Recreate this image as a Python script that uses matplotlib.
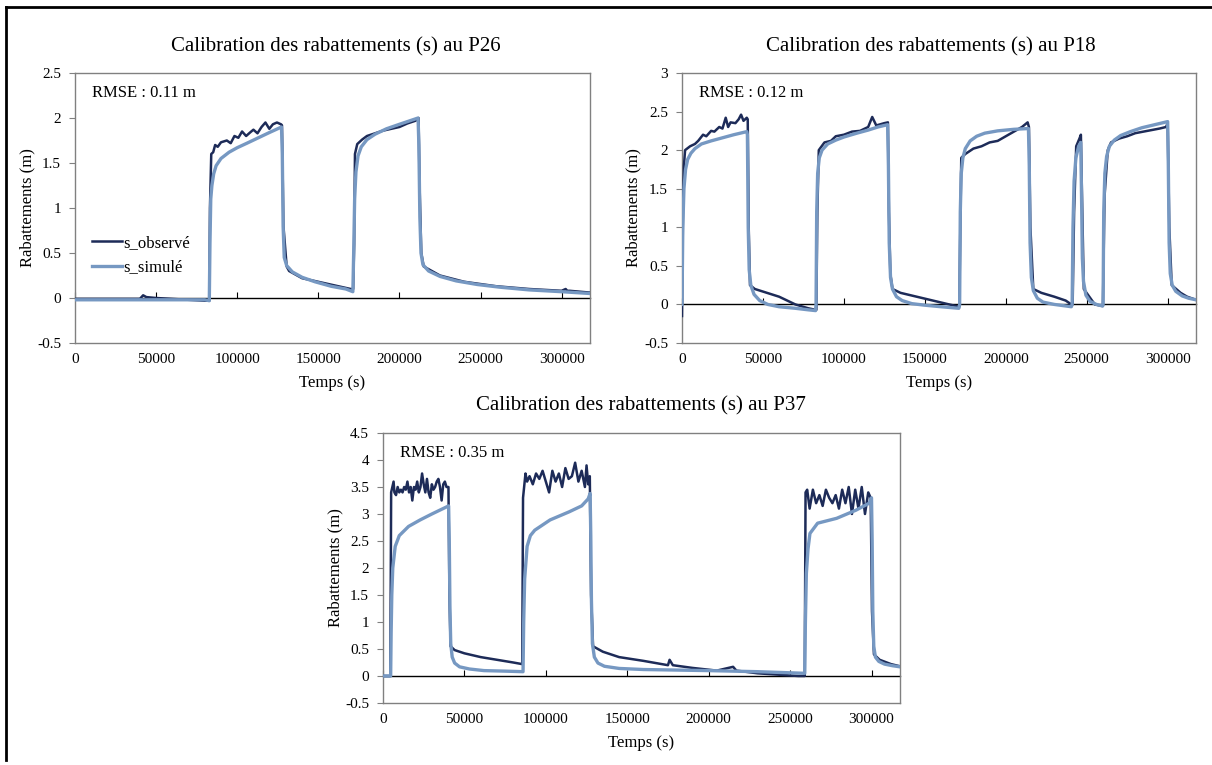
import matplotlib.pyplot as plt
from matplotlib.lines import Line2D

plt.rcParams['font.family'] = ['Liberation Serif', 'DejaVu Serif']

# P26 - observé
t26_obs = [0, 20000, 40000, 42000, 44000, 50000, 60000, 70000, 80000, 82800,
           83200, 84000, 85200, 86400, 88000, 90000, 93600, 96000, 98300, 100700,
           103000, 105500, 108000, 110000, 112500, 115000, 117400, 119800, 122000, 124500,
           127000, 127600, 128500, 130500, 132000, 140000, 150000, 160000, 170000, 171500,
           172100, 172600, 174000, 177000, 180000, 185000, 190000, 195000, 200000, 205000,
           210000, 211800, 212500, 213500, 215000, 225000, 240000, 260000, 280000, 300000,
           302500, 303500, 305000, 317500]
s26_obs = [-0.01, -0.01, -0.01, 0.03, 0.01, 0.0, -0.01, -0.02, -0.03, -0.03,
           1.0, 1.6, 1.62, 1.70, 1.68, 1.73, 1.75, 1.72, 1.80, 1.78,
           1.85, 1.80, 1.84, 1.87, 1.83, 1.90, 1.95, 1.88, 1.93, 1.95,
           1.93, 1.92, 0.8, 0.35, 0.30, 0.22, 0.18, 0.14, 0.10, 0.10,
           0.6, 1.6, 1.71, 1.76, 1.80, 1.83, 1.86, 1.88, 1.90, 1.94,
           1.97, 2.0, 1.2, 0.5, 0.35, 0.25, 0.18, 0.13, 0.10, 0.08,
           0.10, 0.08, 0.08, 0.06]

# P26 - simulé
t26_sim = [0, 40000, 80000, 82800, 83200, 83700, 84400, 85500, 87000, 90000,
           95000, 100000, 106000, 113000, 120000, 127300, 127800, 128300, 129000, 130500,
           134000, 140000, 148000, 158000, 167000, 171300, 171800, 172400, 173200, 174500,
           176500, 180000, 185000, 192000, 200000, 211500, 212000, 212600, 213300, 214500,
           218000, 225000, 235000, 248000, 262000, 280000, 300000, 317500]
s26_sim = [-0.02, -0.02, -0.02, -0.03, 0.6, 1.1, 1.25, 1.38, 1.47, 1.55,
           1.62, 1.67, 1.72, 1.78, 1.84, 1.90, 1.6, 0.8, 0.45, 0.36,
           0.29, 0.23, 0.18, 0.13, 0.10, 0.07, 0.5, 1.1, 1.4, 1.58,
           1.68, 1.76, 1.82, 1.88, 1.93, 2.0, 1.7, 0.9, 0.5, 0.37,
           0.30, 0.24, 0.19, 0.15, 0.12, 0.09, 0.07, 0.05]

# P18 - observé
t18_obs = [0, 600, 1200, 1900, 5000, 8000, 10000, 13000, 15000, 18000,
           20000, 23000, 25000, 27000, 28500, 30000, 33000, 35000, 36500, 38000,
           40000, 40600, 41200, 42000, 45000, 60000, 70000, 78000, 82500, 83000,
           83600, 84500, 88000, 92000, 95000, 100000, 105000, 110000, 115000, 117500,
           120000, 125000, 127200, 127800, 128700, 130000, 135000, 145000, 155000, 165000,
           171300, 171800, 172500, 175000, 180000, 185000, 190000, 195000, 200000, 205000,
           210000, 213500, 214300, 215200, 217000, 222000, 230000, 237000, 240500, 241300,
           242200, 243500, 245500, 246400, 247000, 248200, 255000, 259500, 260000, 261000,
           263000, 265000, 270000, 275000, 280000, 285000, 290000, 295000, 299000, 300000,
           301000, 302500, 308000, 312000, 317500]
s18_obs = [-0.15, 1.2, 1.8, 2.0, 2.05, 2.08, 2.12, 2.2, 2.18, 2.25,
           2.24, 2.3, 2.28, 2.42, 2.3, 2.36, 2.35, 2.4, 2.46, 2.38,
           2.42, 2.4, 1.0, 0.25, 0.2, 0.1, 0.0, -0.05, -0.07, -0.07,
           1.2, 2.0, 2.1, 2.12, 2.18, 2.2, 2.24, 2.25, 2.3, 2.43,
           2.32, 2.35, 2.36, 1.2, 0.4, 0.2, 0.15, 0.1, 0.05, 0.0,
           -0.03, 0.8, 1.9, 1.95, 2.02, 2.05, 2.1, 2.12, 2.18, 2.24,
           2.3, 2.36, 2.3, 1.0, 0.2, 0.15, 0.1, 0.05, 0.0, 0.0,
           1.2, 2.05, 2.15, 2.2, 1.5, 0.2, 0.0, -0.02, -0.02, 1.4,
           2.0, 2.1, 2.15, 2.18, 2.22, 2.24, 2.26, 2.28, 2.3, 2.35,
           1.0, 0.25, 0.15, 0.1, 0.06]

# P18 - simulé
t18_sim = [0, 500, 1200, 2200, 3500, 5500, 8000, 12000, 18000, 25000,
           32000, 40000, 40400, 40900, 41500, 42500, 44500, 48000, 53000, 60000,
           70000, 78000, 82500, 82800, 83200, 83800, 84800, 86500, 90000, 95000,
           100000, 108000, 115000, 121000, 127000, 127500, 128000, 128800, 130000, 132500,
           136000, 142000, 150000, 160000, 171000, 171500, 171900, 172500, 173500, 175000,
           178000, 182000, 187000, 195000, 205000, 214000, 214500, 215000, 215800, 217000,
           219500, 223000, 230000, 240500, 241000, 241500, 242200, 243300, 245000, 246300,
           246800, 247300, 248000, 249500, 252000, 256000, 259800, 260100, 260500, 261200,
           262300, 264000, 267000, 271000, 277000, 284000, 292000, 300000, 300400, 300900,
           301600, 302800, 305000, 309000, 313000, 317500]
s18_sim = [0.0, 1.0, 1.5, 1.75, 1.88, 1.96, 2.02, 2.08, 2.12, 2.16,
           2.2, 2.24, 2.2, 1.0, 0.45, 0.25, 0.13, 0.05, 0.0, -0.03,
           -0.05, -0.07, -0.08, 0.0, 1.2, 1.7, 1.9, 2.0, 2.08, 2.13,
           2.17, 2.22, 2.26, 2.3, 2.33, 1.8, 0.8, 0.35, 0.2, 0.1,
           0.05, 0.01, -0.01, -0.03, -0.05, 0.0, 1.2, 1.7, 1.9, 2.02,
           2.12, 2.18, 2.22, 2.25, 2.27, 2.28, 1.8, 0.8, 0.35, 0.18,
           0.08, 0.03, 0.0, -0.03, 0.0, 1.0, 1.6, 1.9, 2.05, 2.1,
           1.4, 0.6, 0.3, 0.12, 0.04, 0.0, -0.02, 0.0, 1.2, 1.7,
           1.92, 2.05, 2.13, 2.19, 2.24, 2.29, 2.33, 2.37, 1.8, 0.8,
           0.4, 0.25, 0.17, 0.11, 0.08, 0.06]

# P37 - observé
t37_obs = [0, 4500, 5000, 6500, 7000, 8000, 9000, 10000, 11000, 12000,
           13000, 14000, 15000, 16000, 17000, 18000, 19000, 20000, 21000, 22000,
           23000, 24000, 25000, 26000, 27000, 28000, 29000, 30000, 31000, 32000,
           33000, 34000, 35000, 36000, 37000, 38000, 39000, 40200, 40800, 41500,
           44000, 50000, 60000, 70000, 80000, 85500, 86000, 87500, 88500, 90000,
           92000, 94000, 96000, 98000, 100000, 102000, 104000, 106000, 108000, 110000,
           112000, 114000, 116000, 118000, 120000, 122000, 124000, 125000, 126000, 127000,
           127800, 129000, 135000, 145000, 160000, 175000, 176000, 178000, 190000, 205000,
           215000, 217000, 230000, 245000, 255000, 259000, 259500, 260500, 262000, 264000,
           266000, 268000, 270000, 272000, 274000, 276000, 278000, 280000, 282000, 284000,
           286000, 288000, 290000, 292000, 294000, 296000, 298000, 299500, 300300, 301500,
           305000, 312000, 317500]
s37_obs = [0.0, 0.0, 3.4, 3.6, 3.4, 3.35, 3.5, 3.4, 3.45, 3.4,
           3.5, 3.45, 3.6, 3.4, 3.5, 3.25, 3.5, 3.45, 3.6, 3.4,
           3.5, 3.75, 3.55, 3.4, 3.65, 3.4, 3.3, 3.55, 3.45, 3.5,
           3.6, 3.65, 3.5, 3.25, 3.55, 3.6, 3.5, 3.5, 1.5, 0.55,
           0.48, 0.42, 0.35, 0.3, 0.25, 0.22, 3.3, 3.75, 3.6, 3.7,
           3.55, 3.75, 3.65, 3.8, 3.6, 3.4, 3.8, 3.6, 3.75, 3.5,
           3.85, 3.65, 3.7, 3.95, 3.6, 3.8, 3.5, 3.9, 3.55, 3.7,
           1.5, 0.55, 0.45, 0.35, 0.28, 0.2, 0.3, 0.2, 0.15, 0.1,
           0.17, 0.1, 0.05, 0.02, 0.0, 0.0, 3.4, 3.45, 3.1, 3.45,
           3.2, 3.35, 3.15, 3.45, 3.3, 3.2, 3.35, 3.1, 3.45, 3.2,
           3.5, 3.0, 3.45, 3.1, 3.5, 3.0, 3.4, 3.3, 1.2, 0.4,
           0.3, 0.22, 0.18]

# P37 - simulé
t37_sim = [0, 4700, 5000, 5400, 6000, 7500, 10000, 15700, 22800, 30000,
           40300, 40700, 41100, 41600, 42500, 44000, 47000, 53000, 62000, 75000,
           86000, 86400, 87000, 88500, 90500, 93200, 102600, 114300, 122000, 126000,
           127200, 127600, 128000, 128600, 129800, 132000, 136000, 145000, 160000, 180000,
           200000, 230000, 259000, 259400, 260000, 261000, 262200, 266900, 278600, 290400,
           298600, 300000, 300400, 300800, 301400, 302400, 304500, 308000, 313000, 317500]
s37_sim = [0.0, 0.0, 0.8, 1.5, 2.0, 2.4, 2.6, 2.77, 2.89, 3.0,
           3.15, 2.5, 1.3, 0.6, 0.35, 0.24, 0.17, 0.13, 0.10, 0.09,
           0.08, 1.0, 1.8, 2.4, 2.6, 2.7, 2.89, 3.04, 3.15, 3.28,
           3.38, 2.6, 1.4, 0.6, 0.35, 0.24, 0.18, 0.14, 0.12, 0.11,
           0.10, 0.08, 0.05, 1.0, 1.9, 2.35, 2.64, 2.83, 2.92, 3.07,
           3.2, 3.3, 2.5, 1.2, 0.55, 0.35, 0.27, 0.22, 0.19, 0.17]

col_obs = '#1d2b58'
col_sim = '#7698c2'
gris = '#808080'
x_ticks = [0, 50000, 100000, 150000, 200000, 250000, 300000]

W, H = 1212, 765
fig = plt.figure(figsize=(W / 100, H / 100), dpi=100)


def panneau(px, t_obs, s_obs, t_sim, s_sim, ymin, ymax, titre, rmse, titre_x, titre_y, ylab_x):
    l, r, top, bot = px
    ax = fig.add_axes([l / W, 1 - bot / H, (r - l) / W, (bot - top) / H])
    ax.plot(t_obs, s_obs, color=col_obs, lw=1.8, label='s_observé', zorder=3)
    ax.plot(t_sim, s_sim, color=col_sim, lw=2.4, label='s_simulé', zorder=4)
    ax.set_xlim(0, 317500)
    ax.set_ylim(ymin, ymax)
    ax.set_xticks(x_ticks)
    ax.set_xticklabels([str(v) for v in x_ticks])
    yt = [ymin + 0.5 * i for i in range(int(round((ymax - ymin) / 0.5)) + 1)]
    ax.set_yticks(yt)
    ax.set_yticklabels(['%g' % v for v in yt])
    ax.tick_params(axis='x', length=0, pad=7, labelsize=11)
    ax.tick_params(axis='y', length=4, color=gris, pad=6, labelsize=11)
    for sp in ax.spines.values():
        sp.set_color(gris)
        sp.set_linewidth(1.0)
    # axe horizontal en y = 0 avec ses graduations
    sec = ax.secondary_xaxis((0 - ymin) / (ymax - ymin))
    sec.set_xticks(x_ticks)
    sec.tick_params(direction='in', length=4, labelbottom=False, color='black')
    sec.spines['bottom'].set_color('black')
    sec.spines['bottom'].set_linewidth(1.0)
    ax.text(0.033, 0.925, rmse, transform=ax.transAxes, fontsize=12, va='center')
    fig.text(titre_x / W, 1 - titre_y / H, titre, ha='center', va='center', fontsize=15)
    fig.text((l + r) / 2 / W, 1 - (bot + 40) / H, 'Temps (s)', ha='center', va='center', fontsize=12)
    fig.text(ylab_x / W, 1 - (top + bot) / 2 / H, 'Rabattements (m)', ha='center', va='center',
             rotation=90, fontsize=12)
    return ax


ax1 = panneau((75, 590, 73, 343), t26_obs, s26_obs, t26_sim, s26_sim, -0.5, 2.5,
              'Calibration des rabattements (s) au P26', 'RMSE : 0.11 m', 336, 47, 27)
ax1.legend(loc='center left', bbox_to_anchor=(0.0, 0.325), frameon=False, fontsize=12,
           handlelength=1.8, handletextpad=0.1, labelspacing=0.5, borderaxespad=0.6)

ax2 = panneau((682, 1196, 73, 343), t18_obs, s18_obs, t18_sim, s18_sim, -0.5, 3.0,
              'Calibration des rabattements (s) au P18', 'RMSE : 0.12 m', 931, 47, 633)

ax3 = panneau((383, 900, 433, 703), t37_obs, s37_obs, t37_sim, s37_sim, -0.5, 4.5,
              'Calibration des rabattements (s) au P37', 'RMSE : 0.35 m', 641, 406, 335)

# cadre noir en haut et à gauche
fig.add_artist(Line2D([6 / W, 1], [1 - 7 / H, 1 - 7 / H], color='black', lw=2))
fig.add_artist(Line2D([6 / W, 6 / W], [1 - 7 / H, 1 - 760 / H], color='black', lw=2))

fig.savefig('out.png', dpi=100)
